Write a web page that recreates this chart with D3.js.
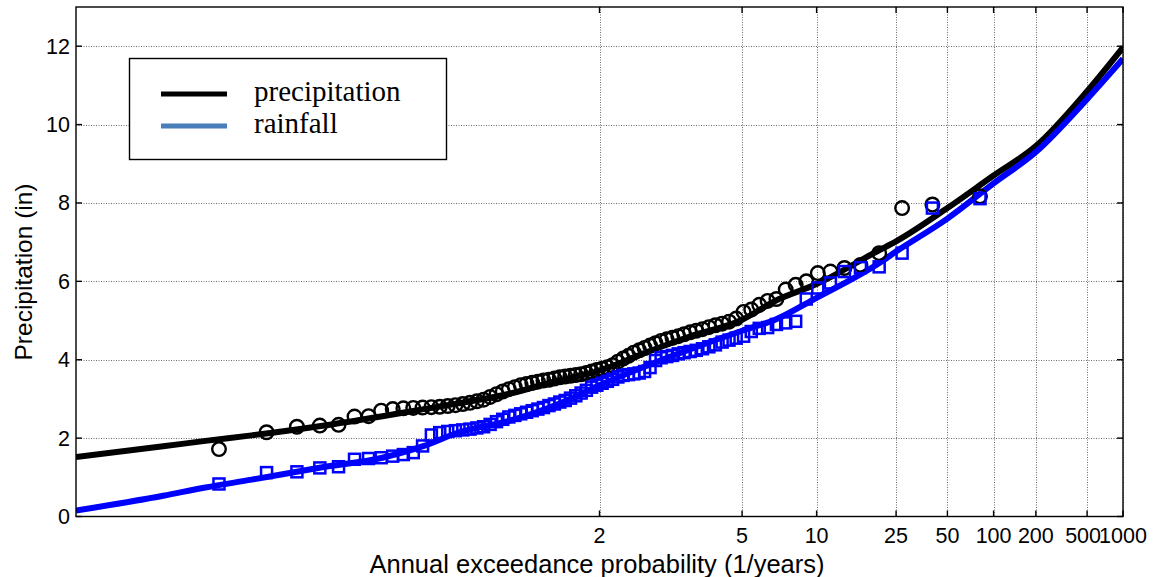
<!DOCTYPE html>
<html><head><meta charset="utf-8">
<script src="https://cdn.jsdelivr.net/npm/d3@7"></script>
<style>
html,body{margin:0;padding:0;background:#fff;}
svg{display:block;}
</style></head>
<body><svg id="chart" width="1157" height="577"></svg>
<script>
// ---- data ----
const returnPeriodTicks = [2, 5, 10, 25, 50, 100, 200, 500, 1000];
const yTicks = [0, 2, 4, 6, 8, 10, 12];
// annual maxima, sorted ascending (plotted with Weibull positions i/(n+1))
const precipitation = [1.72,2.15,2.29,2.32,2.34,2.55,2.56,2.70,2.74,2.76,
  2.77,2.78,2.79,2.80,2.82,2.84,2.87,2.90,2.94,2.98,
  3.05,3.12,3.19,3.25,3.30,3.35,3.38,3.41,3.44,3.47,
  3.49,3.52,3.55,3.57,3.59,3.61,3.63,3.66,3.70,3.74,
  3.77,3.81,3.86,3.95,4.03,4.10,4.18,4.24,4.30,4.36,
  4.42,4.48,4.52,4.56,4.60,4.65,4.70,4.74,4.78,4.83,
  4.88,4.92,4.97,5.05,5.22,5.28,5.40,5.50,5.55,5.79,
  5.91,6.00,6.21,6.25,6.34,6.42,6.72,7.87,7.96,8.17];
const rainfall = [0.83,1.12,1.14,1.24,1.27,1.46,1.48,1.50,1.54,1.58,
  1.63,1.80,2.08,2.14,2.17,2.19,2.21,2.23,2.26,2.29,
  2.35,2.42,2.48,2.54,2.58,2.62,2.66,2.70,2.74,2.78,
  2.83,2.87,2.92,2.96,3.02,3.08,3.15,3.22,3.30,3.35,
  3.40,3.45,3.50,3.56,3.60,3.62,3.64,3.66,3.70,3.80,
  3.98,4.05,4.08,4.11,4.15,4.18,4.21,4.24,4.28,4.33,
  4.38,4.45,4.50,4.55,4.60,4.72,4.80,4.82,4.90,4.94,
  4.98,5.55,5.83,5.96,6.25,6.35,6.37,6.72,7.87,8.11];
// fitted frequency curves (non-exceedance probability -> value)
const curveProb = [0.001,0.005,0.01,0.02,0.05,0.1,0.15,0.2,0.3,0.4,0.5,0.6,0.7,0.8,0.85,0.9,0.95,0.96,0.98,0.99,0.995,0.998,0.999];
const precipFit = [1.52,1.79,1.93,2.07,2.31,2.56,2.74,2.88,3.14,3.46,3.72,4.15,4.58,5.02,5.50,5.93,6.78,7.02,7.87,8.70,9.45,10.85,11.97];
const rainFit   = [0.15,0.53,0.74,0.94,1.25,1.50,1.80,2.13,2.45,2.85,3.35,3.80,4.25,4.74,5.02,5.58,6.45,6.76,7.60,8.50,9.30,10.65,11.68];

// ---- helpers ----
function norminv(p){
  const a=[-3.969683028665376e+01,2.209460984245205e+02,-2.759285104469687e+02,1.383577518672690e+02,-3.066479806614716e+01,2.506628277459239e+00];
  const b=[-5.447609879822406e+01,1.615858368580409e+02,-1.556989798598866e+02,6.680131188771972e+01,-1.328068155288572e+01];
  const c=[-7.784894002430293e-03,-3.223964580411365e-01,-2.400758277161838e+00,-2.549732539343734e+00,4.374664141464968e+00,2.938163982698783e+00];
  const d=[7.784695709041462e-03,3.224671290700398e-01,2.445134137142996e+00,3.754408661907416e+00];
  const pl=0.02425, ph=1-pl; let q,r;
  if(p<pl){q=Math.sqrt(-2*Math.log(p));return (((((c[0]*q+c[1])*q+c[2])*q+c[3])*q+c[4])*q+c[5])/((((d[0]*q+d[1])*q+d[2])*q+d[3])*q+1);}
  if(p<=ph){q=p-0.5;r=q*q;return (((((a[0]*r+a[1])*r+a[2])*r+a[3])*r+a[4])*r+a[5])*q/(((((b[0]*r+b[1])*r+b[2])*r+b[3])*r+b[4])*r+1);}
  q=Math.sqrt(-2*Math.log(1-p));return -(((((c[0]*q+c[1])*q+c[2])*q+c[3])*q+c[4])*q+c[5])/((((d[0]*q+d[1])*q+d[2])*q+d[3])*q+1);
}

// ---- layout ----
const L=76, R=1123, T=7, B=516.5;
const svg = d3.select("#chart");
const x = d3.scaleLinear().domain([norminv(0.001), norminv(0.999)]).range([L, R]);
const y = d3.scaleLinear().domain([0, 13]).range([B, T]);
const xT = t => x(norminv(1 - 1/t));

// grid
const grid = svg.append("g").attr("stroke","#6e6e6e").attr("stroke-width",1).attr("stroke-dasharray","1,1.5");
yTicks.filter(v=>v>0).forEach(v=>{
  grid.append("line").attr("x1",L).attr("x2",R).attr("y1",Math.round(y(v))+0.5).attr("y2",Math.round(y(v))+0.5);
});
returnPeriodTicks.forEach(t=>{
  grid.append("line").attr("x1",Math.round(xT(t))+0.5).attr("x2",Math.round(xT(t))+0.5).attr("y1",T).attr("y2",B);
});

// clip
svg.append("clipPath").attr("id","clip").append("rect").attr("x",L).attr("y",T).attr("width",R-L).attr("height",B-T);
const plot = svg.append("g").attr("clip-path","url(#clip)");

const line = d3.line().x(d=>x(norminv(d[0]))).y(d=>y(d[1])).curve(d3.curveMonotoneX);
plot.append("path").datum(curveProb.map((p,i)=>[p,precipFit[i]]))
  .attr("d",line).attr("fill","none").attr("stroke","#000").attr("stroke-width",6).attr("stroke-linejoin","round");
plot.append("path").datum(curveProb.map((p,i)=>[p,rainFit[i]]))
  .attr("d",line).attr("fill","none").attr("stroke","#0000ff").attr("stroke-width",6).attr("stroke-linejoin","round");

const n = precipitation.length;
plot.append("g").selectAll("circle").data(precipitation).join("circle")
  .attr("cx",(d,i)=>x(norminv((i+1)/(n+1)))).attr("cy",d=>y(d)).attr("r",6.8)
  .attr("fill","none").attr("stroke","#000").attr("stroke-width",2.4);
const m = rainfall.length;
const s = 11;
plot.append("g").selectAll("rect").data(rainfall).join("rect")
  .attr("x",(d,i)=>x(norminv((i+1)/(m+1)))-s/2).attr("y",d=>y(d)-s/2).attr("width",s).attr("height",s)
  .attr("fill","none").attr("stroke","#0000ff").attr("stroke-width",2.5);

// box & ticks
const ax = svg.append("g").attr("stroke","#000").attr("stroke-width",1.4);
ax.append("rect").attr("x",L).attr("y",T).attr("width",R-L).attr("height",B-T).attr("fill","none");
yTicks.forEach(v=>{
  const yy=y(v);
  ax.append("line").attr("x1",L).attr("x2",L+6).attr("y1",yy).attr("y2",yy);
  ax.append("line").attr("x1",R-6).attr("x2",R).attr("y1",yy).attr("y2",yy);
});
returnPeriodTicks.forEach(t=>{
  const xx=xT(t);
  ax.append("line").attr("x1",xx).attr("x2",xx).attr("y1",B).attr("y2",B-6);
  ax.append("line").attr("x1",xx).attr("x2",xx).attr("y1",T).attr("y2",T+6);
});

// tick labels
const lab = svg.append("g").attr("font-family","Liberation Sans, Arial, sans-serif").attr("font-size",21.5).attr("fill","#000");
yTicks.forEach(v=>{
  lab.append("text").attr("x",70).attr("y",y(v)).attr("dy","0.35em").attr("text-anchor","end").text(v);
});
returnPeriodTicks.forEach(t=>{
  lab.append("text").attr("x",xT(t) - (t===500 ? 4 : 0)).attr("y",543).attr("text-anchor","middle").text(t);
});
svg.append("text").attr("x",597).attr("y",573).attr("text-anchor","middle")
  .attr("font-family","Liberation Sans, Arial, sans-serif").attr("font-size",25.5).text("Annual exceedance probability (1/years)");
svg.append("text").attr("transform","translate(32,272) rotate(-90)").attr("text-anchor","middle")
  .attr("font-family","Liberation Sans, Arial, sans-serif").attr("font-size",24.5).text("Precipitation (in)");

// legend
const lg = svg.append("g");
lg.append("rect").attr("x",129.5).attr("y",58.5).attr("width",317).attr("height",101).attr("fill","#fff").attr("stroke","#000").attr("stroke-width",1.4);
const legendItems = [["precipitation","#000"],["rainfall","#4a7ebb"]];
legendItems.forEach((it,i)=>{
  const yy = 94 + i*32;
  lg.append("line").attr("x1",161).attr("x2",227).attr("y1",yy).attr("y2",yy).attr("stroke",it[1]).attr("stroke-width",5);
  lg.append("text").attr("x",254).attr("y",yy+7).attr("font-family","Liberation Serif, Times New Roman, serif").attr("font-size",29).text(it[0]);
});
</script></body></html>
